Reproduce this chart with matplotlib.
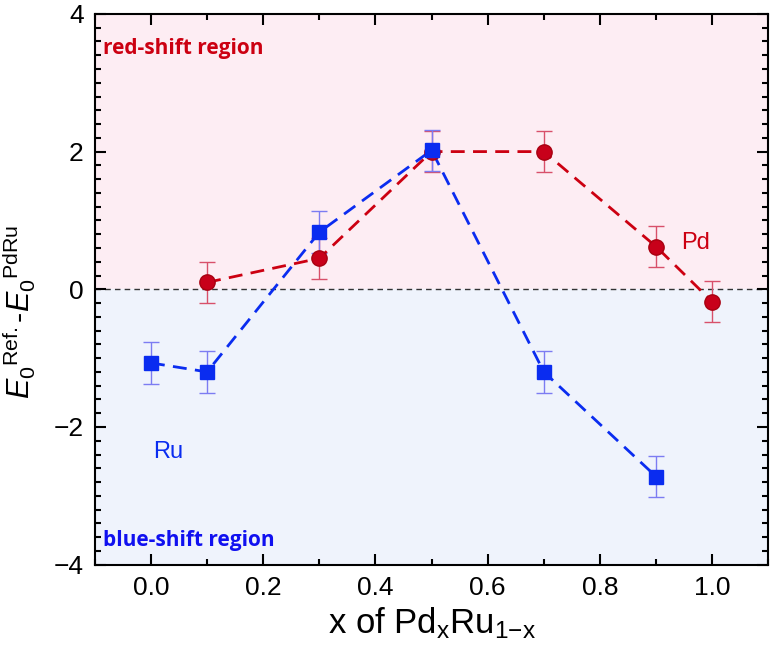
import matplotlib.pyplot as plt
from matplotlib.ticker import MultipleLocator

plt.rcParams['font.family'] = ['Liberation Sans', 'DejaVu Sans']
plt.rcParams['mathtext.fontset'] = 'custom'
plt.rcParams['mathtext.rm'] = 'Liberation Sans'
plt.rcParams['mathtext.it'] = 'Liberation Sans:italic'

# Pd series
x_pd = [0.1, 0.3, 0.5, 0.7, 0.9, 1.0]
y_pd = [0.1, 0.45, 2.0, 2.0, 0.62, -0.18]
err_pd = [0.3, 0.3, 0.3, 0.3, 0.3, 0.3]

# Ru series
x_ru = [0.0, 0.1, 0.3, 0.5, 0.7, 0.9]
y_ru = [-1.07, -1.2, 0.83, 2.02, -1.2, -2.72]
err_ru = [0.3, 0.3, 0.3, 0.3, 0.3, 0.3]

fig = plt.figure(figsize=(7.84, 6.62), dpi=100)
ax = fig.add_axes([0.121, 0.147, 0.859, 0.832])

ax.set_xlim(-0.1, 1.1)
ax.set_ylim(-4, 4)
ax.axhspan(0, 4, color='#fdedf3', zorder=0)
ax.axhspan(-4, 0, color='#eff3fc', zorder=0)
ax.axhline(0, color='#333333', ls=(0, (4, 3)), lw=1, zorder=1)

ax.errorbar(x_pd, y_pd, yerr=err_pd, fmt='none', ecolor='#d8506a', elinewidth=1, capsize=6, zorder=2)
ax.plot(x_pd, y_pd, ls=(0, (5, 3)), color='#cc0011', lw=2, zorder=3)
ax.plot(x_pd, y_pd, 'o', ms=11, color='#c8001a', mec='#a80010', zorder=4)

ax.errorbar(x_ru, y_ru, yerr=err_ru, fmt='none', ecolor='#7c7cf2', elinewidth=1, capsize=6, zorder=2)
ax.plot(x_ru, y_ru, ls=(0, (5, 3)), color='#0a2cf0', lw=2, zorder=3)
ax.plot(x_ru, y_ru, 's', ms=10, color='#0a2cf0', zorder=4)

ax.text(-0.085, 3.5, 'red-shift region', color='#cc0011', fontsize=15,
        fontweight='bold', family='Open Sans', va='center')
ax.text(-0.085, -3.65, 'blue-shift region', color='#1010f0', fontsize=15,
        fontweight='bold', family='Open Sans', va='center')
ax.text(0.945, 0.67, 'Pd', color='#cc0011', fontsize=17, va='center')
ax.text(0.003, -2.37, 'Ru', color='#0a2cf0', fontsize=17, va='center')

ax.xaxis.set_major_locator(MultipleLocator(0.2))
ax.xaxis.set_minor_locator(MultipleLocator(0.1))
ax.yaxis.set_major_locator(MultipleLocator(2))
ax.yaxis.set_minor_locator(MultipleLocator(0.2))
ax.xaxis.set_major_formatter(plt.FuncFormatter(lambda v, p: f'{v:.1f}'))
ax.yaxis.set_major_formatter(plt.FuncFormatter(lambda v, p: f'{v:.0f}'.replace('-', '\u2212')))
ax.tick_params(which='both', direction='in', top=True, right=True, width=1.5, labelsize=19, pad=8)
ax.tick_params(which='major', length=8)
ax.tick_params(which='minor', length=4)
for s in ax.spines.values():
    s.set_linewidth(1.5)

ax.set_xlabel(r'x of Pd$_{\rm x}$Ru$_{\rm 1{-}x}$', fontsize=25, labelpad=4)
ax.set_ylabel(r'$E_0{}^{\rm Ref.}$-$E_0{}^{\rm PdRu}$', fontsize=22)
ax.yaxis.set_label_coords(-0.085, 0.46)

fig.savefig('out.png', dpi=100)
